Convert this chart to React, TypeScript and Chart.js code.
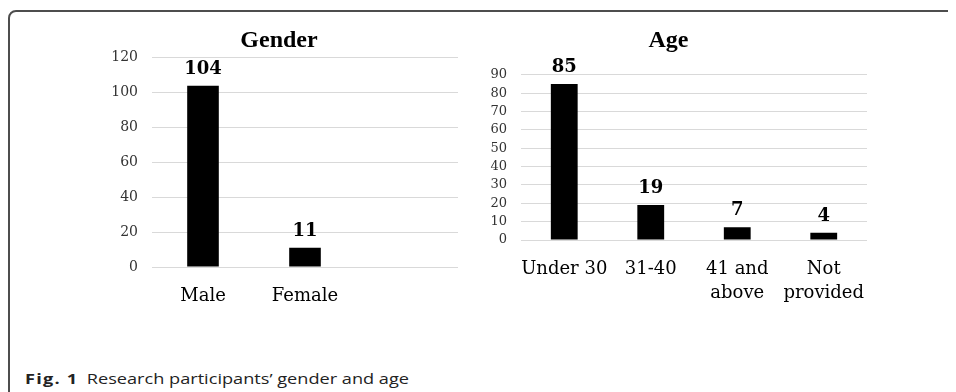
import React, { useEffect, useRef } from "react";
import { Chart, registerables } from "chart.js";

Chart.register(...registerables);

// ---- Data ----
const genderTitle = "Gender";
const genderCategories: string[] = ["Male", "Female", ""];
const genderValues: (number | null)[] = [104, 11, null];
const genderTicks: number[] = [0, 20, 40, 60, 80, 100, 120];

const ageTitle = "Age";
const ageCategories: (string | string[])[] = ["Under 30", "31-40", ["41 and", "above"], ["Not", "provided"]];
const ageValues: number[] = [85, 19, 7, 4];
const ageTicks: number[] = [0, 10, 20, 30, 40, 50, 60, 70, 80, 90];

const captionBold = "Fig. 1";
const captionText = "Research participants\u2019 gender and age";

const SERIF = "'DejaVu Serif', serif";
const TITLE_SERIF = "'Liberation Serif', serif";

const valueLabels = {
  id: "valueLabels",
  afterDatasetsDraw(chart: any) {
    const ctx = chart.ctx;
    const meta = chart.getDatasetMeta(0);
    const data = chart.data.datasets[0].data;
    ctx.save();
    ctx.font = `bold 18px ${SERIF}`;
    ctx.fillStyle = "#000";
    ctx.textAlign = "center";
    ctx.textBaseline = "alphabetic";
    meta.data.forEach((el: any, i: number) => {
      const v = data[i];
      if (v == null) return;
      ctx.fillText(String(v), el.x, el.y - 12);
    });
    ctx.restore();
  },
};

function makeConfig(
  title: string,
  labels: any[],
  values: any[],
  tickValues: number[],
  yWidth: number,
  xHeight: number,
  padRight: number,
  titleBottom: number,
  tickSize: number
): any {
  return {
    type: "bar",
    data: {
      labels,
      datasets: [
        {
          data: values,
          backgroundColor: "#000",
          borderWidth: 0,
          barPercentage: 0.31,
          categoryPercentage: 1,
        },
      ],
    },
    plugins: [valueLabels],
    options: {
      responsive: false,
      animation: false,
      devicePixelRatio: 1,
      layout: { padding: { left: 0, right: padRight, top: 0, bottom: 0 } },
      plugins: {
        legend: { display: false },
        tooltip: { enabled: false },
        title: {
          display: true,
          text: title,
          color: "#000",
          font: { family: TITLE_SERIF, size: 24, weight: "bold", lineHeight: 1.2 },
          padding: { top: 6, bottom: titleBottom },
        },
      },
      scales: {
        x: {
          grid: { display: false, drawTicks: false },
          border: { display: false },
          ticks: {
            color: "#000",
            font: { family: SERIF, size: 18, lineHeight: 1.33 },
            padding: 17,
            maxRotation: 0,
            autoSkip: false,
          },
          afterFit(scale: any) {
            scale.height = xHeight;
          },
        },
        y: {
          min: tickValues[0],
          max: tickValues[tickValues.length - 1],
          grid: { color: "#d9d9d9", lineWidth: 1, drawTicks: false },
          border: { display: false },
          ticks: {
            color: "#333",
            font: { family: SERIF, size: tickSize },
            padding: 14,
            autoSkip: false,
          },
          afterBuildTicks(scale: any) {
            scale.ticks = tickValues.map((v) => ({ value: v }));
          },
          afterFit(scale: any) {
            scale.width = yWidth;
          },
        },
      },
    },
  };
}

function ChartCanvas(props: { config: any; left: number; top: number; width: number; height: number }) {
  const ref = useRef<HTMLCanvasElement | null>(null);
  useEffect(() => {
    if (!ref.current) return;
    const chart = new Chart(ref.current, props.config);
    return () => chart.destroy();
  }, []);
  return (
    <canvas
      ref={ref}
      width={props.width}
      height={props.height}
      style={{ position: "absolute", left: props.left, top: props.top, width: props.width, height: props.height }}
    />
  );
}

export default function App() {
  const genderConfig = makeConfig(genderTitle, genderCategories, genderValues, genderTicks, 52, 63, 12, 3, 14);
  const ageConfig = makeConfig(ageTitle, ageCategories, ageValues, ageTicks, 51, 90, 23, 20, 13);
  return (
    <div style={{ position: "relative", width: 948, height: 384, overflow: "hidden" }}>
      <div
        style={{
          position: "absolute",
          left: 0,
          top: 2,
          width: 1000,
          height: 420,
          border: "2px solid #4d4d4d",
          borderRadius: 8,
          boxSizing: "border-box",
        }}
      />
      <ChartCanvas config={genderConfig} left={92} top={12} width={370} height={310} />
      <ChartCanvas config={ageConfig} left={462} top={12} width={420} height={310} />
      <div
        style={{
          position: "absolute",
          left: 17,
          top: 360,
          fontFamily: "'Open Sans', sans-serif",
          fontSize: 15,
          lineHeight: "20px",
          color: "#222",
          whiteSpace: "nowrap",
          transform: "scaleX(1.21)",
          transformOrigin: "left center",
        }}
      >
        <span style={{ fontWeight: 700, letterSpacing: 1 }}>{captionBold}</span>
        <span style={{ marginLeft: 7 }}>{captionText}</span>
      </div>
    </div>
  );
}
